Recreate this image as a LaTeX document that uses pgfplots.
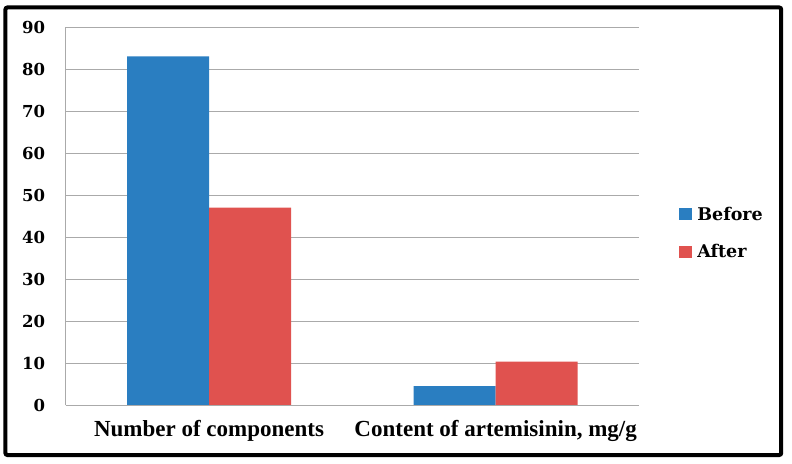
\documentclass[border=0pt]{standalone}
\usepackage{pgfplots}
\pgfplotsset{compat=1.18}
\usepackage{fontspec}
\setmainfont{DejaVu Serif}
\newfontfamily\catfont{Liberation Serif}

\definecolor{beforeblue}{RGB}{42,126,193}
\definecolor{afterred}{RGB}{224,82,79}
\definecolor{gridgray}{RGB}{170,170,170}

\begin{document}
\begin{tikzpicture}
% page frame: whole image is 792 x 464, axis box lower left at (0,0)
\path (-65.7bp,-59bp) rectangle (726.3bp,405bp);
\draw[line width=4bp, rounded corners=2bp] (-60.3bp,-50bp) rectangle (715.5bp,397.5bp);

\begin{axis}[
    at={(0,0)}, anchor=south west,
    scale only axis,
    width=573.3bp, height=378bp,
    ymin=0, ymax=90,
    ytick={0,10,...,90},
    xmin=-0.5, xmax=1.5,
    xtick={0,1},
    xticklabels={Number of components, {Content of artemisinin, mg/g}},
    ybar=0pt, bar width=82bp,
    axis x line*=bottom, axis y line*=left,
    axis line style={draw=gridgray, line width=0.8bp, -},
    ymajorgrids=true,
    grid style={gridgray, line width=0.8bp},
    major tick length=0pt,
    /pgf/number format/assume math mode=true,
    yticklabel style={font=\bfseries\fontsize{16.5bp}{18bp}\selectfont, xshift=-17bp},
    xticklabel style={font=\catfont\bfseries\fontsize{23bp}{26bp}\selectfont, yshift=-11.5bp},
    legend style={
        at={(1.07,0.455)}, anchor=west,
        draw=none, fill=none, inner sep=0pt,
        row sep=19bp,
        font=\bfseries\fontsize{17.5bp}{20bp}\selectfont,
        /tikz/every odd column/.append style={column sep=3bp},
    },
    legend cell align=left,
    legend image code/.code={\fill[#1, draw=none] (0bp,-6bp) rectangle (13bp,6bp);},
]
\addplot[fill=beforeblue, draw=none] coordinates {(0,83) (1,4.5)};
\addplot[fill=afterred, draw=none] coordinates {(0,47) (1,10.3)};
\legend{Before, After}
\end{axis}
\end{tikzpicture}
\end{document}
